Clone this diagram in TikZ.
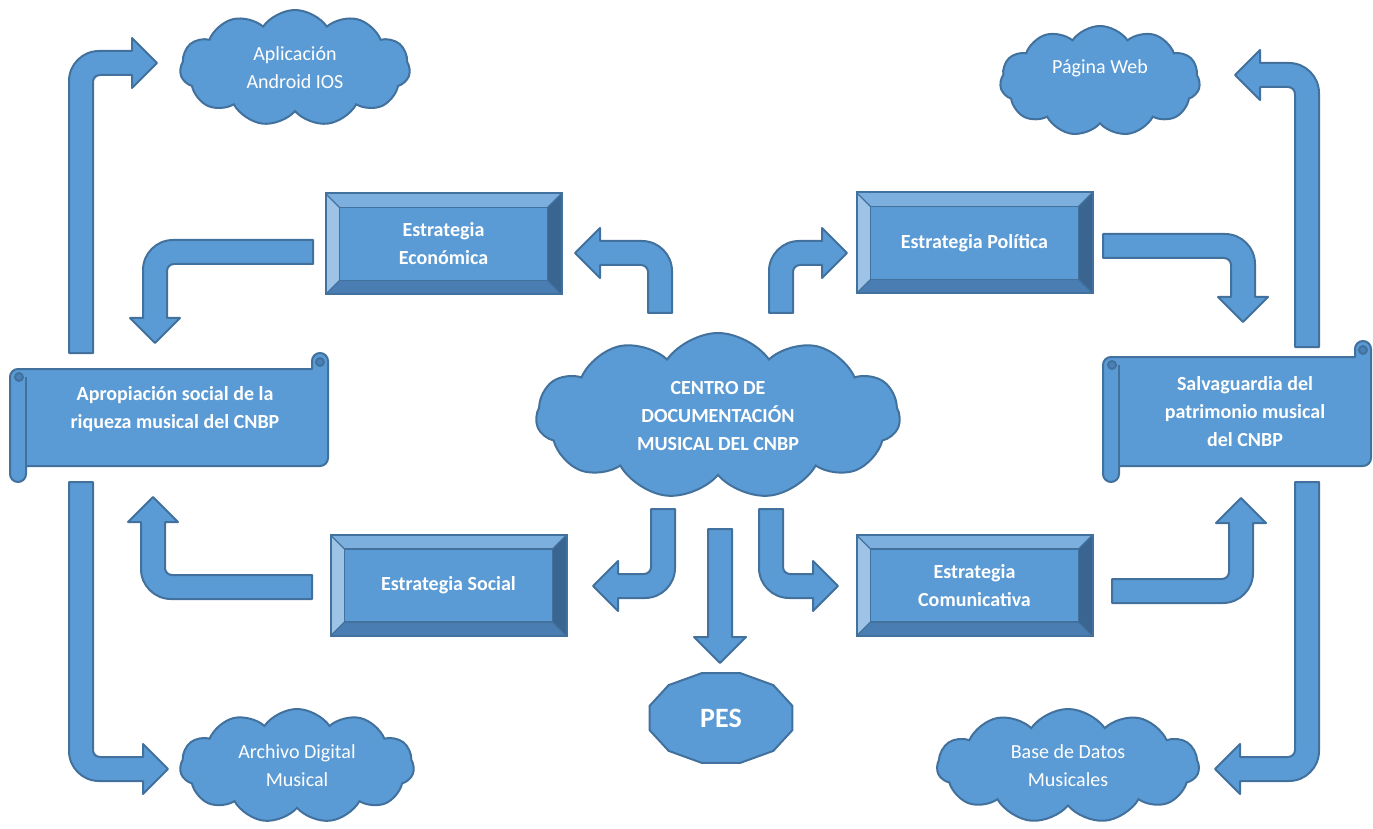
\documentclass[tikz,border=0pt]{standalone}
\usepackage{fontspec}
\setmainfont{Carlito}
\usetikzlibrary{shapes.symbols}
\definecolor{blueface}{HTML}{5B9BD5}
\definecolor{blueline}{HTML}{41719C}
\definecolor{beveltop}{HTML}{7DAFDE}
\definecolor{bevelleft}{HTML}{9DC3E6}
\definecolor{bevelright}{HTML}{3A6591}
\definecolor{bevelbottom}{HTML}{4A7EB3}
\definecolor{curldark}{HTML}{4A80B8}

\def\ppb{path picture bounding box}
\def\arrW{24}\def\arrH{25}\def\arrL{25}\def\arrRo{30}\def\arrRi{7}

\tikzset{
  blockarrow/.style={draw=blueline,fill=blueface,line width=1pt,line join=round},
  txtnorm/.style={text=white,align=center,font=\fontsize{10}{14}\selectfont},
  txtbold/.style={text=white,align=center,font=\fontsize{10}{14}\selectfont\bfseries},
  nube/.style={cloud,cloud puffs=11,cloud puff arc=110,draw=blueline,fill=blueface,line width=1pt,inner sep=-4pt,txtnorm},
  bevelbox/.style={draw=blueline,fill=blueface,line width=1pt,minimum width=118pt,minimum height=50.5pt,txtbold,
    path picture={
      \fill[beveltop] (\ppb.north west) -- (\ppb.north east) -- ([shift={(-7pt,-7pt)}]\ppb.north east) -- ([shift={(7pt,-7pt)}]\ppb.north west) -- cycle;
      \fill[bevelbottom] (\ppb.south west) -- (\ppb.south east) -- ([shift={(-7pt,7pt)}]\ppb.south east) -- ([shift={(7pt,7pt)}]\ppb.south west) -- cycle;
      \fill[bevelleft] (\ppb.north west) -- (\ppb.south west) -- ([shift={(7pt,7pt)}]\ppb.south west) -- ([shift={(7pt,-7pt)}]\ppb.north west) -- cycle;
      \fill[bevelright] (\ppb.north east) -- (\ppb.south east) -- ([shift={(-7pt,7pt)}]\ppb.south east) -- ([shift={(-7pt,-7pt)}]\ppb.north east) -- cycle;
      \draw[blueline,line width=0.6pt] ([shift={(7pt,-7pt)}]\ppb.north west) rectangle ([shift={(-7pt,7pt)}]\ppb.south east);
      \draw[blueline,line width=0.6pt] (\ppb.north west) -- ++(7pt,-7pt) (\ppb.north east) -- ++(-7pt,-7pt)
        (\ppb.south west) -- ++(7pt,7pt) (\ppb.south east) -- ++(-7pt,7pt);
    }},
  scrollfill/.style={draw=blueline,fill=blueface,line width=1pt,line join=round}
}

% base, first direction, bend direction, length to bend, reach to tip
\newcommand{\bentarrow}[5]{%
  \begin{scope}[shift={#1},x={#2},y={#3}]
    \filldraw[blockarrow] (0,0) -- ({#4-\arrRo},0)
      .. controls ({#4-0.45*\arrRo},0) and (#4,{0.45*\arrRo}) .. (#4,\arrRo)
      -- (#4,{#5-\arrL}) -- ({#4-\arrW/2+\arrH},{#5-\arrL})
      -- ({#4-\arrW/2},#5) -- ({#4-\arrW/2-\arrH},{#5-\arrL})
      -- ({#4-\arrW},{#5-\arrL}) -- ({#4-\arrW},{\arrW+\arrRi})
      .. controls ({#4-\arrW},{\arrW+0.45*\arrRi}) and ({#4-\arrW-0.45*\arrRi},\arrW) .. ({#4-\arrW-\arrRi},\arrW)
      -- (0,\arrW) -- cycle;
  \end{scope}}

% x0 y0 x1 y1
\newcommand{\scrollshape}[4]{%
  \filldraw[scrollfill] ({#1+8},{#2+16}) -- ({#3-16},{#2+16}) -- ({#3-16},{#2+8}) arc(180:360:8)
    -- (#3,{#4-24}) arc(0:90:8) -- ({#1+16},{#4-16}) -- ({#1+16},{#4-8}) arc(0:180:8)
    -- (#1,{#2+24}) arc(180:270:8) -- cycle;
  \draw[blueline,line width=1pt] ({#1+16},{#2+24}) -- ({#1+16},{#4-16});
  \filldraw[scrollfill,fill=curldark] ({#1+9},{#2+24}) circle (4);
  \filldraw[scrollfill,fill=curldark] ({#3-8},{#2+9}) circle (4);
}

\begin{document}
\begin{tikzpicture}[x=0.5pt,y=-0.5pt]
\fill[white] (0,0) rectangle (1373,829);
\useasboundingbox (0,0) rectangle (1373,829);

% arrows
\bentarrow{(69,353)}{(0pt,0.5pt)}{(0.5pt,0pt)}{302}{88}
\bentarrow{(69,482)}{(0pt,-0.5pt)}{(0.5pt,0pt)}{299}{99}
\bentarrow{(1319,347)}{(0pt,0.5pt)}{(-0.5pt,0pt)}{284}{84}
\bentarrow{(1319,482)}{(0pt,-0.5pt)}{(-0.5pt,0pt)}{299}{104}
\bentarrow{(313,240)}{(-0.5pt,0pt)}{(0pt,-0.5pt)}{170}{103}
\bentarrow{(312,599)}{(-0.5pt,0pt)}{(0pt,0.5pt)}{171}{102}
\bentarrow{(672,313)}{(0pt,0.5pt)}{(-0.5pt,0pt)}{72}{97}
\bentarrow{(769,313)}{(0pt,0.5pt)}{(0.5pt,0pt)}{72}{78}
\bentarrow{(675,509)}{(0pt,-0.5pt)}{(-0.5pt,0pt)}{89}{82}
\bentarrow{(759,509)}{(0pt,-0.5pt)}{(0.5pt,0pt)}{89}{79}
\bentarrow{(1103,234)}{(0.5pt,0pt)}{(0pt,-0.5pt)}{152}{88}
\bentarrow{(1112,603)}{(0.5pt,0pt)}{(0pt,0.5pt)}{141}{105}
\filldraw[blockarrow] (708,529) -- (732,529) -- (732,637) -- (746,637) -- (720,663) -- (694,637) -- (708,637) -- cycle;

% scrolls
\scrollshape{10}{353}{328}{482}
\scrollshape{1103}{341}{1371}{482}
\node[txtbold] (apropia) at (175,409) {Apropiación social de la\\riqueza musical del CNBP};
\node[txtbold] (salva) at (1245,412) {Salvaguardia del\\patrimonio musical\\del CNBP};

% strategies
\node[bevelbox] (econ) at (443.5,244) {Estrategia\\Económica};
\node[bevelbox] (politica) at (974.5,243) {Estrategia Política};
\node[bevelbox] (social) at (448.5,585.5) {Estrategia Social};
\node[bevelbox] (comunica) at (974.5,585.5) {Estrategia\\Comunicativa};

% clouds
\node[nube,aspect=2.2,minimum width=182pt,minimum height=83pt,txtbold] (centro) at (718,416) {CENTRO DE\\DOCUMENTACIÓN\\MUSICAL DEL CNBP};
\node[nube,aspect=2,minimum width=115pt,minimum height=58pt] (app) at (295,68) {Aplicación\\Android IOS};
\node[nube,aspect=1.8,minimum width=100pt,minimum height=55pt] (web) at (1100,81) {Página Web\\ \mbox{}};
\node[nube,aspect=2.1,minimum width=117pt,minimum height=57pt] (archivo) at (297,766) {Archivo Digital\\Musical};
\node[nube,aspect=2.3,minimum width=131pt,minimum height=57pt] (basedatos) at (1068,766) {Base de Datos\\Musicales};

% PES
\filldraw[blockarrow] plot[samples at={15,45,...,345}] ({721+74*cos(\x)},{718+46.5*sin(\x)}) -- cycle;
\node[text=white,font=\fontsize{14}{16}\selectfont\bfseries] (pes) at (721,718) {PES};
\end{tikzpicture}
\end{document}
